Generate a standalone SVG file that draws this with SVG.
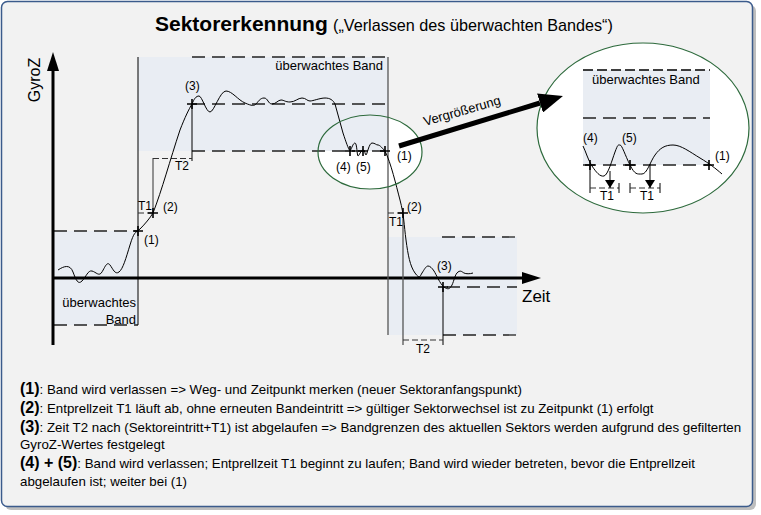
<svg xmlns="http://www.w3.org/2000/svg" xmlns:xlink="http://www.w3.org/1999/xlink" width="761" height="515" viewBox="0 0 761 515">
<style>
text{font-family:"Liberation Sans",Arial,sans-serif;fill:#000}
.lbl{font-size:12px}
.band{fill:#e9edf3}
.dash{stroke:#222;stroke-width:1.3;stroke-dasharray:13 7;fill:none}
.sdash{stroke:#333;stroke-width:1.2;stroke-dasharray:6 3;fill:none}
.curve{fill:none;stroke:#000;stroke-width:1}
.cross{stroke:#000;stroke-width:1.6;fill:none}
.axis{stroke:#000;stroke-width:3}
.vl{stroke:#000;stroke-width:1}
.vg{stroke:#555;stroke-width:1.3}
.ell{fill:none;stroke:#2d6a3c;stroke-width:1.2}
.leg{font-size:13.3px}
.legb{font-size:16px;font-weight:bold}
</style>
<defs>
<path id="cross" d="M-5,0 h10 M0,-5 v10" class="cross"/>
<marker id="bigArrow" viewBox="0 0 24 20" refX="0" refY="10" markerWidth="24" markerHeight="20" markerUnits="userSpaceOnUse" orient="auto"><path d="M0,0 L24,10 L0,20 z" fill="#000"/></marker>
<marker id="smallArrow" viewBox="0 0 8 10" refX="8" refY="5" markerWidth="8" markerHeight="10" markerUnits="userSpaceOnUse" orient="auto"><path d="M0,0 L8,5 L0,10 z" fill="#000"/></marker>
</defs>

<g id="frame">
<rect x="5" y="5" width="751" height="505" rx="6" fill="#a3a3a3" opacity="0.7"/>
<rect x="1.5" y="1.5" width="751" height="505" rx="6" fill="#f2f2f2" stroke="#3b5b8c" stroke-width="1.5"/>
</g>

<g id="title">
<text x="155" y="31" style="font-size:21px;font-weight:bold">Sektorerkennung</text>
<text x="333" y="31" style="font-size:16.2px">(„Verlassen des überwachten Bandes“)</text>
</g>

<g id="zoom-small-fill"><ellipse cx="370" cy="152" rx="52" ry="37" fill="#ffffff"/></g>

<g id="band-left">
<rect x="54" y="231" width="84" height="94" class="band"/>
<line x1="54" y1="231" x2="138" y2="231" class="dash"/>
<line x1="54" y1="325" x2="138" y2="325" class="dash"/>
<text x="136" y="307" text-anchor="end" style="font-size:13px">überwachtes</text>
<text x="136" y="324" text-anchor="end" style="font-size:13px">Band</text>
</g>

<g id="band-top">
<rect x="138" y="57" width="250" height="94" class="band"/>
<line x1="192" y1="57" x2="388" y2="57" class="dash"/>
<line x1="192" y1="104" x2="388" y2="104" class="dash"/>
<line x1="192" y1="151" x2="388" y2="151" class="dash"/>
<text x="383" y="70" text-anchor="end" style="font-size:13px">überwachtes Band</text>
</g>

<g id="band-right">
<rect x="388" y="237" width="129" height="98" class="band"/>
<line x1="442" y1="237" x2="517" y2="237" class="dash"/>
<line x1="447" y1="287" x2="517" y2="287" class="dash"/>
<line x1="443" y1="335" x2="517" y2="335" class="dash"/>
</g>

<g id="axes">
<line x1="53" y1="70" x2="53" y2="345" class="axis"/>
<path d="M53,52 L59,71 L47,71 z" fill="#000"/>
<line x1="53" y1="278" x2="524" y2="278" class="axis"/>
<path d="M541,278 L522,272 L522,284 z" fill="#000"/>
<text x="40" y="80" text-anchor="middle" transform="rotate(-90 40 80)" style="font-size:16px">GyroZ</text>
<text x="522" y="302" style="font-size:17px">Zeit</text>
</g>

<g id="markers-left">
<line x1="138" y1="57" x2="138" y2="325" class="vl"/>
<line x1="153" y1="158" x2="153" y2="213" stroke="#333" stroke-width="1"/>
<line x1="192" y1="104" x2="192" y2="161" class="vl"/>
<line x1="153" y1="158.5" x2="192" y2="158.5" class="sdash"/>
<line x1="138" y1="213" x2="153" y2="213" class="sdash"/>
<text x="138" y="210" class="lbl">T1</text>
<text x="175" y="170" class="lbl">T2</text>
<text x="144" y="244" class="lbl">(1)</text>
<text x="163" y="211" class="lbl">(2)</text>
<text x="185" y="90" class="lbl">(3)</text>
</g>

<g id="markers-right">
<line x1="388" y1="57" x2="388" y2="335" class="vg"/>
<line x1="403" y1="213" x2="403" y2="345" class="vg"/>
<line x1="443" y1="287" x2="443" y2="345" class="vl"/>
<line x1="388" y1="213" x2="403" y2="213" class="sdash"/>
<line x1="403" y1="340" x2="443" y2="340" class="sdash"/>
<text x="389" y="226" class="lbl">T1</text>
<text x="416" y="353" class="lbl">T2</text>
<text x="407" y="211" class="lbl">(2)</text>
<text x="437" y="270" class="lbl">(3)</text>
<text x="397" y="160" class="lbl">(1)</text>
<text x="336" y="171" class="lbl">(4)</text>
<text x="356" y="171" class="lbl">(5)</text>
</g>

<g id="signal">
<path class="curve" d="M58,270 C64,266 70,264 73,272 S78,285 82,281 S88,270 92,271 S99,277 102,272 S107,261 110,265 S115,275 119,272 S126,258 130,245 S135,233 140,229 C145,224 150,218 153,213 C162,190 170,160 180,130 C185,117 189,109 192,104 C194,99 196,96 199,96 S206,112 210,112 S220,91 226,91 S238,100 245,103 S254,106 256,104 S260,98 264,98 S268,104 272,104 S278,100 281,100 S285,102 290,102 S298,98 302,98 S307,101 310,101 S320,98 325,98 S333,100 335,104 L343,133 C346,142 348,148 350,151 C352,148 353,143 355,143 S357,156 358,156 S361,150 363,150 S365,155 366,155 S369,143 372,143 S376,145 378,145 S383,149 385,151 C391,163 396,185 400,200 S404,225 406,240 S410,266 415,273 S420,276 422,273 S426,266 428,266 S432,268 434,271 S440,284 444,287 S450,289 452,285 S455,274 458,272 S462,272 464,273 S470,274 473,273"/>
<use xlink:href="#cross" x="138" y="231"/>
<use xlink:href="#cross" x="153" y="213"/>
<use xlink:href="#cross" x="192" y="104"/>
<use xlink:href="#cross" x="350" y="151"/>
<use xlink:href="#cross" x="363" y="151"/>
<use xlink:href="#cross" x="385" y="151"/>
<use xlink:href="#cross" x="403" y="213"/>
<use xlink:href="#cross" x="443" y="287"/>
</g>

<g id="zoom-small"><ellipse cx="370" cy="152" rx="52" ry="37" class="ell"/></g>

<g id="zoom-big">
<ellipse cx="643" cy="128" rx="106" ry="85" fill="#ffffff" stroke="#2d6a3c" stroke-width="1.2"/>
<rect x="583" y="70" width="127" height="95" class="band"/>
<line x1="583" y1="70" x2="710" y2="70" stroke="#000" stroke-width="1.3" stroke-dasharray="10 4"/>
<line x1="583" y1="118" x2="710" y2="118" class="dash"/>
<line x1="583" y1="165" x2="710" y2="165" class="dash"/>
<text x="592" y="84" style="font-size:13px">überwachtes Band</text>
<text x="583" y="142" class="lbl">(4)</text>
<text x="622" y="142" class="lbl">(5)</text>
<text x="715" y="160" class="lbl">(1)</text>
<path class="curve" d="M583,146 C586,152 588,160 592,166 S600,177 604,176 S612,160 615,152 S618,145 620,145 S625,155 630,165 S637,174 642,174 S650,162 655,155 S665,145 673,145 S690,152 700,158 S715,168 722,174"/>
<use xlink:href="#cross" x="590" y="165"/>
<use xlink:href="#cross" x="630" y="165"/>
<use xlink:href="#cross" x="709" y="165"/>
<line x1="590" y1="165" x2="590" y2="193" class="vl"/>
<line x1="590" y1="188" x2="619" y2="188" class="sdash"/>
<line x1="619" y1="183" x2="619" y2="193" class="vl"/>
<line x1="630" y1="183" x2="630" y2="193" class="vl"/>
<line x1="630" y1="188" x2="660" y2="188" class="sdash"/>
<line x1="660" y1="183" x2="660" y2="193" class="vl"/>
<line x1="610" y1="171" x2="610" y2="188" class="vl" stroke-width="1.5" marker-end="url(#smallArrow)"/>
<line x1="650" y1="164" x2="650" y2="188" class="vl" stroke-width="1.5" marker-end="url(#smallArrow)"/>
<text x="600" y="200" class="lbl">T1</text>
<text x="640" y="200" class="lbl">T1</text>
</g>

<g id="connectors">
<line x1="399" y1="146" x2="540" y2="103" stroke="#000" stroke-width="5" marker-end="url(#bigArrow)"/>
<text x="425" y="126" transform="rotate(-16 425 126)" style="font-size:13px">Vergrößerung</text>
</g>

<g id="legend">
<text x="20" y="394" class="leg"><tspan class="legb">(1)</tspan>: Band wird verlassen =&gt; Weg- und Zeitpunkt merken (neuer Sektoranfangspunkt)</text>
<text x="20" y="413" class="leg"><tspan class="legb">(2)</tspan>: Entprellzeit T1 läuft ab, ohne erneuten Bandeintritt =&gt; gültiger Sektorwechsel ist zu Zeitpunkt (1) erfolgt</text>
<text x="20" y="432" class="leg"><tspan class="legb">(3)</tspan>: Zeit T2 nach (Sektoreintritt+T1) ist abgelaufen =&gt; Bandgrenzen des aktuellen Sektors werden aufgrund des gefilterten</text>
<text x="20" y="449" class="leg">GyroZ-Wertes festgelegt</text>
<text x="20" y="468" class="leg"><tspan class="legb">(4) + (5)</tspan>: Band wird verlassen; Entprellzeit T1 beginnt zu laufen; Band wird wieder betreten, bevor die Entprellzeit</text>
<text x="20" y="486" class="leg">abgelaufen ist; weiter bei (1)</text>
</g>
</svg>
